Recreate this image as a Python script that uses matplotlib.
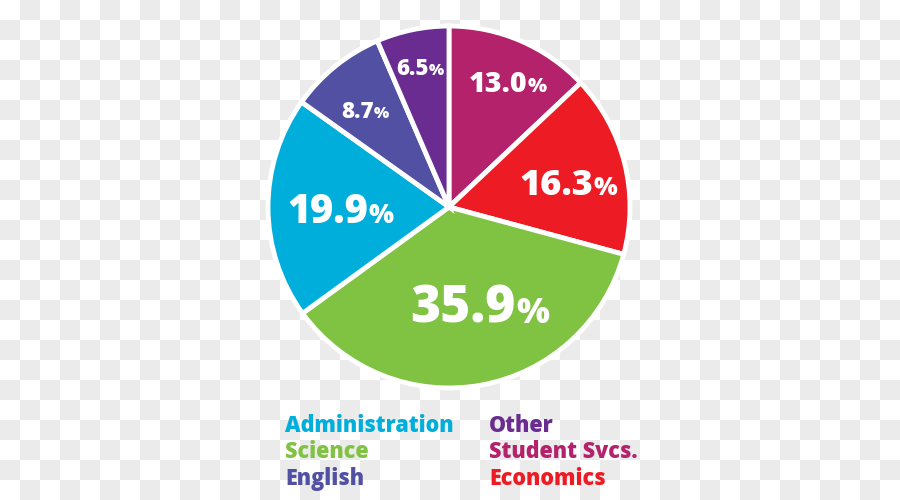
import numpy as np
import matplotlib
matplotlib.use("Agg")
import matplotlib.pyplot as plt
from matplotlib.offsetbox import TextArea, HPacker, AnnotationBbox

# ---- data ----
categories = ["Student Svcs.", "Economics", "Science", "Administration", "English", "Other"]
shares = [13.0, 16.3, 35.9, 19.9, 8.7, 6.5]
value_labels = ["13.0", "16.3", "35.9", "19.9", "8.7", "6.5"]
colors = ["#B3226A", "#ED1C24", "#80C242", "#00AEDB", "#5250A2", "#6A2C91"]
legend_col1 = ["Administration", "Science", "English"]
legend_col2 = ["Other", "Student Svcs.", "Economics"]

# ---- styling / layout ----
num_sizes = [20.5, 26, 37, 28.5, 16, 16]
pct_sizes = [14.5, 18, 25, 19, 11.5, 11.5]
label_radii = [0.75, 0.67, 0.59, 0.60, 0.70, 0.78]
label_angle_shift = [-2.2, -4.0, 6.3, 2.5, 2.8, 0.0]
FONT = "Open Sans"
WEIGHT = 800

W, H = 900, 500
fig = plt.figure(figsize=(9, 5), dpi=100)

# checkerboard (transparency) background
bg = fig.add_axes([0, 0, 1, 1], zorder=-10)
yy, xx = np.indices((H // 20, W // 20))
pattern = ((xx + yy) % 2).astype(float)
bg.imshow(pattern, cmap=matplotlib.colors.ListedColormap(["#FFFFFF", "#EBEBEB"]),
          extent=(0, W, H, 0), interpolation="nearest", aspect="auto")
bg.set_xlim(0, W); bg.set_ylim(H, 0)
bg.axis("off")

cx, cy, r = 449, 207, 181
ax = fig.add_axes([(cx - r) / W, (H - cy - r) / H, 2 * r / W, 2 * r / H])
wedges, _ = ax.pie(shares, colors=colors, startangle=90, counterclock=False,
                   wedgeprops=dict(edgecolor="white", linewidth=3.5))
ax.set_xlim(-1, 1); ax.set_ylim(-1, 1)
ax.set_aspect("equal")
ax.axis("off")

for w, lab, ns, ps, lr, da in zip(wedges, value_labels, num_sizes, pct_sizes,
                                  label_radii, label_angle_shift):
    ang = np.deg2rad((w.theta1 + w.theta2) / 2 + da)
    x, y = lr * np.cos(ang), lr * np.sin(ang)
    t1 = TextArea(lab, textprops=dict(color="white", fontsize=ns, fontweight=WEIGHT, family=FONT))
    t2 = TextArea("%", textprops=dict(color="white", fontsize=ps, fontweight=WEIGHT, family=FONT))
    box = HPacker(children=[t1, t2], align="baseline", pad=0, sep=0)
    ab = AnnotationBbox(box, (x, y), frameon=False, box_alignment=(0.5, 0.5))
    ax.add_artist(ab)

color_of = dict(zip(categories, colors))
row_y = [426, 452, 479]
for names, x0 in ((legend_col1, 285), (legend_col2, 489)):
    for name, yv in zip(names, row_y):
        fig.text(x0 / W, 1 - yv / H, name, color=color_of[name], fontsize=15.5,
                 fontweight=WEIGHT, family=FONT, ha="left", va="center")

fig.savefig("out.png", dpi=100)
